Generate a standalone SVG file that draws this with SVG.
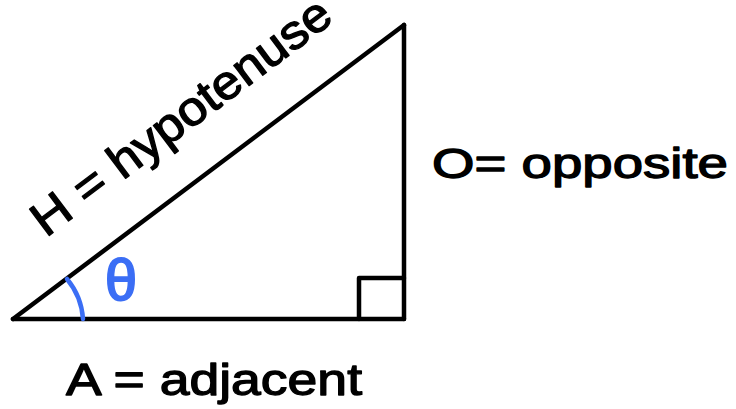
<svg xmlns="http://www.w3.org/2000/svg" width="736" height="409" viewBox="0 0 736 409">
<style>
.ln{fill:none;stroke:#000;stroke-width:4.5;stroke-linecap:round;stroke-linejoin:round}
.lbl{font-family:"Liberation Sans","DejaVu Sans",sans-serif;fill:#000;stroke:#000;stroke-width:1.3;stroke-linejoin:round}
</style>
<rect width="736" height="409" fill="#fff"/>
<g id="connectors">
<path class="ln" d="M13,319 L404,25"/>
<path class="ln" d="M404,25 L404,319"/>
<path class="ln" d="M13,319 L404,319"/>
</g>
<g id="right-angle">
<path class="ln" d="M359,319 L359,278 L404,278"/>
</g>
<g id="angle">
<path d="M67,279 A70,70 0 0 1 83,319" fill="none" stroke="#3b6ef5" stroke-width="4.5" stroke-linecap="round"/>
<text x="105" y="300" font-family="Liberation Sans, DejaVu Sans, sans-serif" font-size="58" fill="#3b6ef5" stroke="#3b6ef5" stroke-width="2" textLength="32" lengthAdjust="spacingAndGlyphs">θ</text>
</g>
<g id="hypotenuse-label">
<text class="lbl" x="0" y="0" font-size="48" textLength="362" lengthAdjust="spacingAndGlyphs" transform="translate(46,238) rotate(-36.9)">H = hypotenuse</text>
</g>
<g id="opposite-label">
<text class="lbl" x="432" y="178" font-size="42" textLength="296" lengthAdjust="spacingAndGlyphs">O= opposite</text>
</g>
<g id="adjacent-label">
<text class="lbl" x="66" y="395" font-size="44" textLength="296" lengthAdjust="spacingAndGlyphs">A = adjacent</text>
</g>
</svg>
